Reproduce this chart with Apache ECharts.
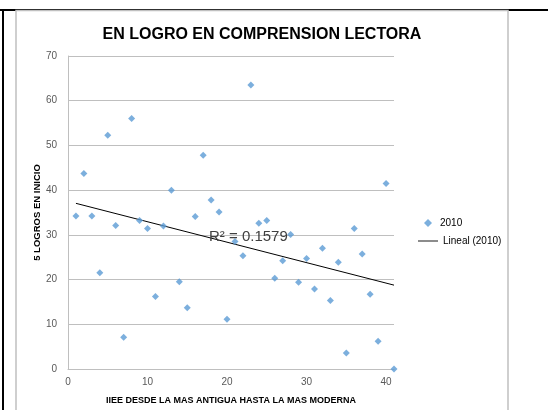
<!DOCTYPE html>
<html>
<head>
<meta charset="utf-8">
<script src="https://cdn.jsdelivr.net/npm/echarts@6/dist/echarts.min.js"></script>
<style>
  html, body { margin: 0; padding: 0; background: #fff; }
  #chart { width: 548px; height: 410px; }
</style>
</head>
<body>
<div id="chart"></div>
<script>
// IIEE number (x) and logros en inicio (y)
const iiee = [1, 2, 3, 4, 5, 6, 7, 8, 9, 10, 11, 12, 13, 14, 15, 16, 17, 18, 19, 20,
  21, 22, 23, 24, 25, 26, 27, 28, 29, 30, 31, 32, 33, 34, 35, 36, 37, 38, 39, 40, 41]
const logros2010 = [34.2, 43.7, 34.2, 21.5, 52.3, 32.1, 7.1, 56.0, 33.2, 31.4, 16.2, 32.0, 40.0, 19.5, 13.7, 34.1, 47.8, 37.8, 35.1, 11.1,
  28.5, 25.3, 63.5, 32.6, 33.2, 20.3, 24.2, 30.1, 19.4, 24.7, 17.9, 27.0, 15.3, 23.9, 3.6, 31.4, 25.7, 16.7, 6.2, 41.5, 0]
const yTicks = [0, 10, 20, 30, 40, 50, 60, 70]
const xTicks = [0, 10, 20, 30, 40]
const r2Text = 'R² = 0.1579'

const points = iiee.map((x, i) => [x, logros2010[i]])

// linea de tendencia (minimos cuadrados)
const n = iiee.length
const mx = iiee.reduce((a, b) => a + b, 0) / n
const my = logros2010.reduce((a, b) => a + b, 0) / n
let sxy = 0
let sxx = 0
iiee.forEach((x, i) => {
  sxy += (x - mx) * (logros2010[i] - my)
  sxx += (x - mx) * (x - mx)
})
const slope = sxy / sxx
const intercept = my - slope * mx
const xFirst = iiee[0]
const xLast = iiee[iiee.length - 1]
const trend = [[xFirst, intercept + slope * xFirst], [xLast, intercept + slope * xLast]]

const legendText = { fontFamily: 'Liberation Sans', fontSize: 10, color: '#000' }

const myChart = echarts.init(document.getElementById('chart'))
myChart.setOption({
  animation: false,
  title: {
    text: 'EN LOGRO EN COMPRENSION LECTORA',
    left: 257,
    textAlign: 'center',
    top: 22,
    textStyle: { fontFamily: 'Liberation Sans', fontSize: 16, fontWeight: 'bold', color: '#000' }
  },
  grid: { left: 68, right: 154, top: 56, bottom: 41 },
  legend: [
    {
      left: 424,
      top: 218,
      padding: 0,
      itemWidth: 8,
      itemHeight: 8,
      textStyle: Object.assign({ padding: [0, 0, 0, 3] }, legendText),
      data: [{ name: '2010', icon: 'diamond' }]
    },
    {
      left: 418,
      top: 236,
      padding: 0,
      itemWidth: 20,
      itemHeight: 8,
      textStyle: legendText,
      data: [{ name: 'Lineal (2010)', icon: 'path://M0,0L22,0L22,1L0,1Z' }]
    }
  ],
  xAxis: {
    type: 'value',
    min: xTicks[0],
    max: xLast,
    interval: 10,
    name: 'IIEE DESDE LA MAS ANTIGUA HASTA LA MAS MODERNA',
    nameLocation: 'middle',
    nameGap: 27,
    nameTextStyle: { fontFamily: 'Liberation Sans', fontSize: 9, fontWeight: 'bold', color: '#000' },
    axisLine: { lineStyle: { color: '#bfbfbf' } },
    axisTick: { show: false },
    axisLabel: { showMaxLabel: false, margin: 8, fontFamily: 'Liberation Sans', fontSize: 10, color: '#595959' },
    splitLine: { show: false }
  },
  yAxis: {
    type: 'value',
    min: yTicks[0],
    max: yTicks[yTicks.length - 1],
    interval: 10,
    name: '5 LOGROS EN INICIO',
    nameLocation: 'middle',
    nameGap: 26,
    nameMoveOverlap: false,
    nameTextStyle: { fontFamily: 'Liberation Sans', fontSize: 9.5, fontWeight: 'bold', color: '#000' },
    axisLine: { show: true, lineStyle: { color: '#bfbfbf' } },
    axisTick: { show: false },
    axisLabel: { margin: 11, fontFamily: 'Liberation Sans', fontSize: 10, color: '#595959' },
    splitLine: { lineStyle: { color: '#bfbfbf' } }
  },
  series: [
    {
      name: '2010',
      type: 'scatter',
      symbol: 'diamond',
      symbolSize: 7,
      itemStyle: { color: '#5b9bd5' },
      data: points,
      z: 3
    },
    {
      name: 'Lineal (2010)',
      type: 'line',
      symbol: 'none',
      lineStyle: { color: '#000', width: 1 },
      itemStyle: { color: '#000' },
      data: trend,
      z: 2
    }
  ],
  graphic: [
    // lineas de la celda y borde del grafico
    { type: 'rect', shape: { x: 0, y: 9, width: 548, height: 2 }, style: { fill: '#000' }, z: 0 },
    { type: 'rect', shape: { x: 2, y: 9, width: 2, height: 410 }, style: { fill: '#000' }, z: 0 },
    { type: 'rect', shape: { x: 16, y: 10.5, width: 492, height: 420 }, style: { fill: null, stroke: '#c0c0c0', lineWidth: 1.5 }, z: 1 },
    {
      type: 'text',
      left: 209,
      top: 229,
      z: 10,
      style: { text: r2Text, fontFamily: 'Liberation Sans', fontSize: 15, fill: '#404040' }
    }
  ]
})
window.addEventListener('resize', function() {
  myChart.resize()
})
</script>
</body>
</html>
